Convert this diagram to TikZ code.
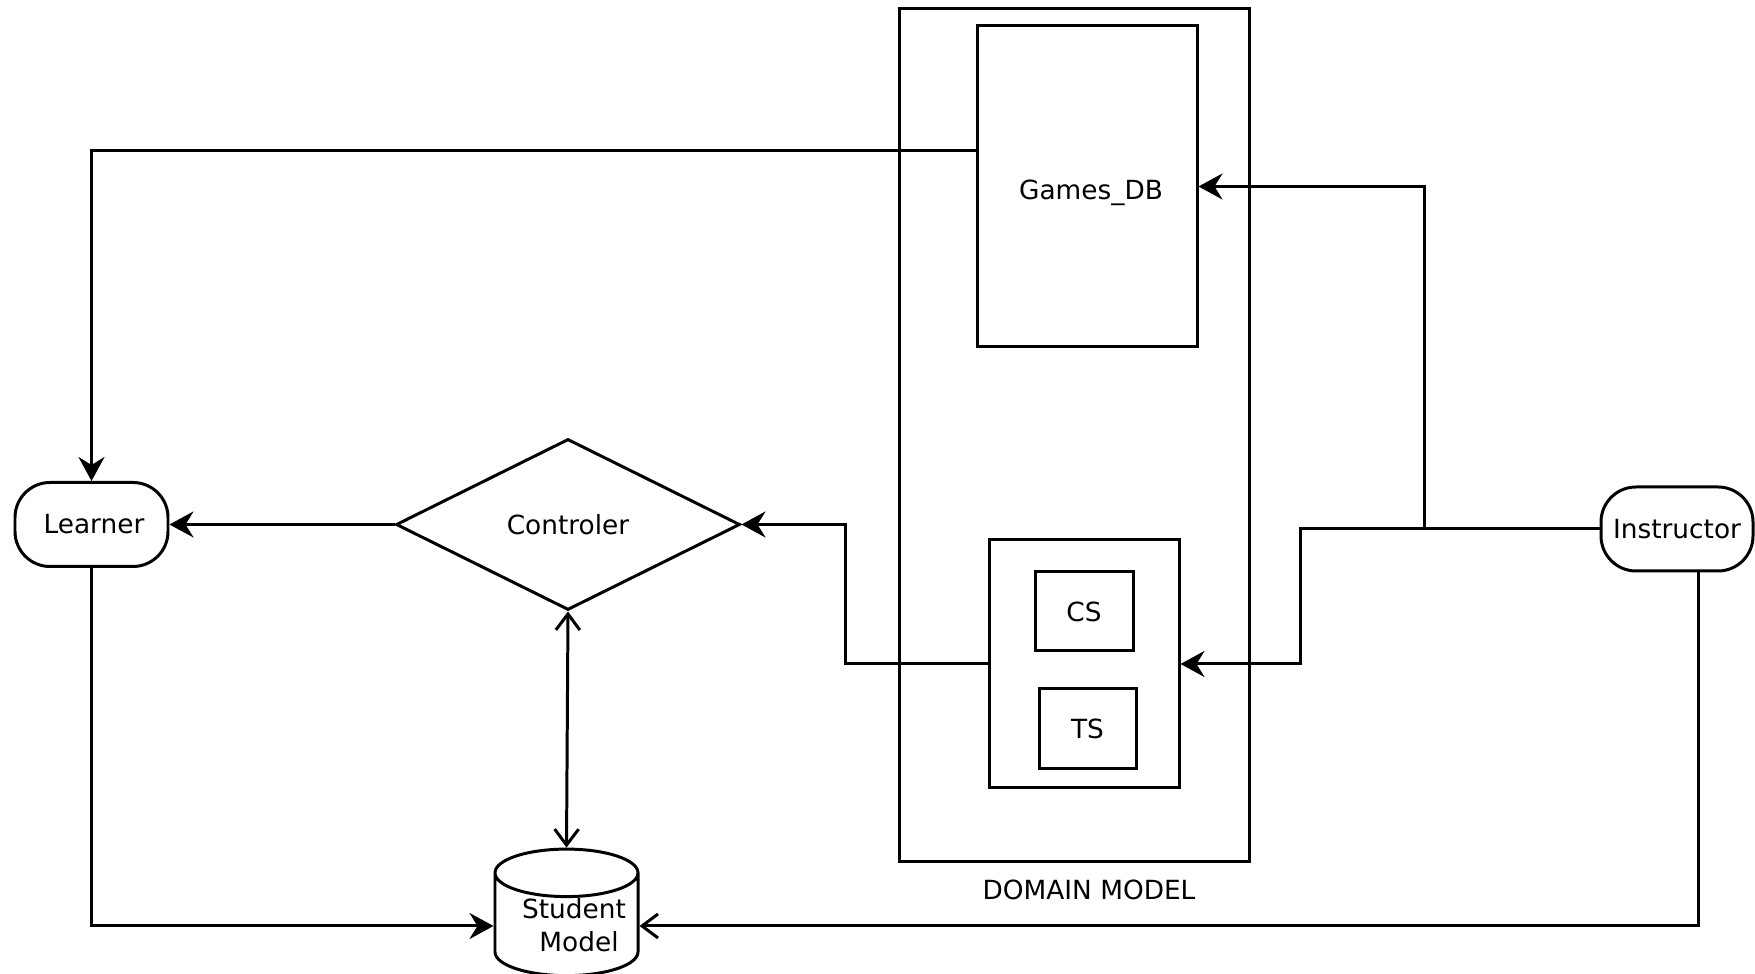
\documentclass[tikz,border=0pt]{standalone}
\usepackage{fontspec}
\setmainfont{DejaVu Sans}
\usetikzlibrary{arrows.meta,shapes.geometric}

\begin{document}
\begin{tikzpicture}[line width=0.85pt,
    every node/.style={font=\fontsize{7.5}{9.5}\selectfont},
    box/.style={draw=black,fill=white,rectangle,inner sep=0pt},
    actor/.style={draw=black,fill=white,rectangle,rounded corners=3.5mm,minimum height=0.84cm},
    flow/.style={-{Stealth[length=2.4mm,width=2.6mm,inset=0.8mm]}},
    barb/.style={-{Straight Barb[length=1.6mm,width=2.4mm]}},
    barbs/.style={{Straight Barb[length=1.6mm,width=2.4mm]}-{Straight Barb[length=1.6mm,width=2.4mm]}}]
    \useasboundingbox (0,0) rectangle (17.55,-9.74);
    \node[box,minimum width=3.50cm,minimum height=8.53cm,
      label={[xshift=1.5mm,label distance=1pt]below:DOMAIN MODEL}] (domain) at (10.74,-4.355) {};
    \node[box,minimum width=2.20cm,minimum height=3.21cm] (games) at (10.87,-1.865) {\raisebox{-1.3mm}[0pt][0pt]{\hspace*{0.8mm}Games\_DB}};
    \node[box,minimum width=1.90cm,minimum height=2.48cm] (tsbox) at (10.84,-6.64) {};
    \node[box,minimum width=0.98cm,minimum height=0.79cm] (cs) at (10.84,-6.115) {CS};
    \node[box,minimum width=0.97cm,minimum height=0.80cm] (ts) at (10.875,-7.29) {TS};
    \node[actor,minimum width=1.53cm] (learner) at (0.915,-5.245) {\hspace*{0.5mm}Learner};
    \node[actor,minimum width=1.52cm] (instr) at (16.77,-5.29) {Instructor};
    \node[diamond,draw=black,fill=white,inner sep=0pt,minimum width=3.44cm,minimum height=1.71cm] (ctrl) at (5.68,-5.245) {Controler};
    \node[cylinder,shape border rotate=90,aspect=0.4,draw=black,fill=white,inner sep=0pt,
      minimum width=1.43cm,minimum height=1.25cm,align=center] (sm) at (5.665,-9.25) {\hspace*{1.5mm}Student\\\hspace*{2.5mm}Model};
    \draw[flow] ([yshift=3.55mm]games.west) -| (learner.north);
    \draw[flow] (ctrl.west) -- (learner.east);
    \draw[flow] (tsbox.west) -- ++(-1.42,0) |- (ctrl.east);
    \draw[flow] (instr.west) -- ++(-1.75,0) |- (games.east);
    \draw[flow] (instr.west) -- ++(-2.99,0) |- (tsbox.east);
    \draw[flow] (learner.south) |- ([yshift=-0.1mm]sm.west);
    \draw[barb] ([xshift=2.1mm]instr.south) |- ([yshift=-0.1mm]sm.east);
    \draw[barbs] (ctrl.south) -- (sm.north);
\end{tikzpicture}
\end{document}
